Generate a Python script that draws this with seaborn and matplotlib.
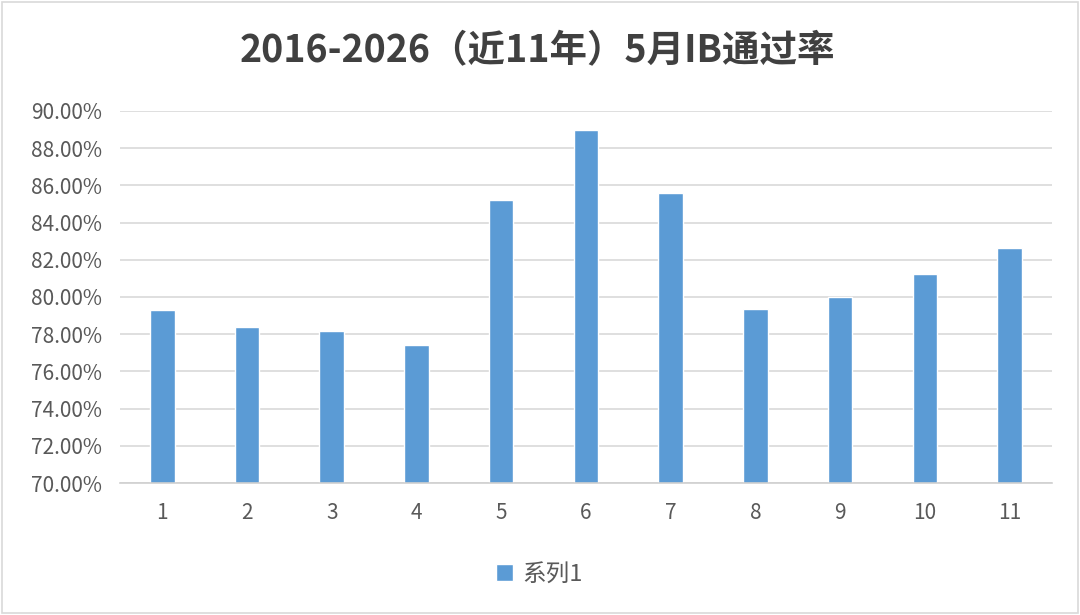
import matplotlib
matplotlib.use('Agg')
import matplotlib.pyplot as plt
import seaborn as sns
import pandas as pd
from matplotlib.patches import Rectangle
from matplotlib.ticker import FuncFormatter

# данные графика
years = ['1', '2', '3', '4', '5', '6', '7', '8', '9', '10', '11']
rates = [79.31, 78.41, 78.18, 77.41, 85.19, 88.96, 85.60, 79.35, 80.00, 81.23, 82.61]
series_name = '系列1'
title = '2016-2026（近11年）5月IB通过率'

df = pd.DataFrame({'year': years, 'rate': rates, 'series': series_name})

sns.set_theme(style='white')
plt.rcParams['font.family'] = ['Noto Sans CJK SC', 'DejaVu Sans']

fig = plt.figure(figsize=(10.8, 6.15), dpi=100)
ax = fig.add_axes([0.111, 0.2146, 0.863, 0.605])

sns.barplot(data=df, x='year', y='rate', hue='series', palette=['#5B9BD5'],
            width=0.29, ax=ax, legend=True, saturation=1)

ax.set_ylim(70, 90)
ax.set_yticks(range(70, 91, 2))
ax.yaxis.set_major_formatter(FuncFormatter(lambda v, p: f'{v:.2f}%'))
ax.set_xlim(-0.5, 10.5)
ax.set_xlabel('')
ax.set_ylabel('')
ax.grid(axis='y', color='#D9D9D9', linewidth=1.2)
ax.set_axisbelow(True)
for s in ['top', 'right', 'left']:
    ax.spines[s].set_visible(False)
ax.spines['bottom'].set_color('#D0D0D0')
ax.spines['bottom'].set_linewidth(1.2)
ax.tick_params(axis='both', length=0, labelsize=15, colors='#595959')
ax.tick_params(axis='y', pad=13)
ax.tick_params(axis='x', pad=14)

# заголовок
fig.text(0.498, 0.918, title, ha='center', va='center', fontsize=27,
         fontweight='bold', color='#404040')

# легенда снизу
ax.legend(loc='center', bbox_to_anchor=(0.45, -0.245), frameon=False,
          fontsize=17, labelcolor='#595959', handlelength=0.7, handleheight=0.7,
          handletextpad=0.4)

# рамка вокруг картинки
fig.patches.append(Rectangle((0.002, 0.003), 0.996, 0.994, transform=fig.transFigure,
                             fill=False, edgecolor='#D9D9D9', linewidth=1.2))

fig.savefig('out.png', dpi=100, facecolor='white')
